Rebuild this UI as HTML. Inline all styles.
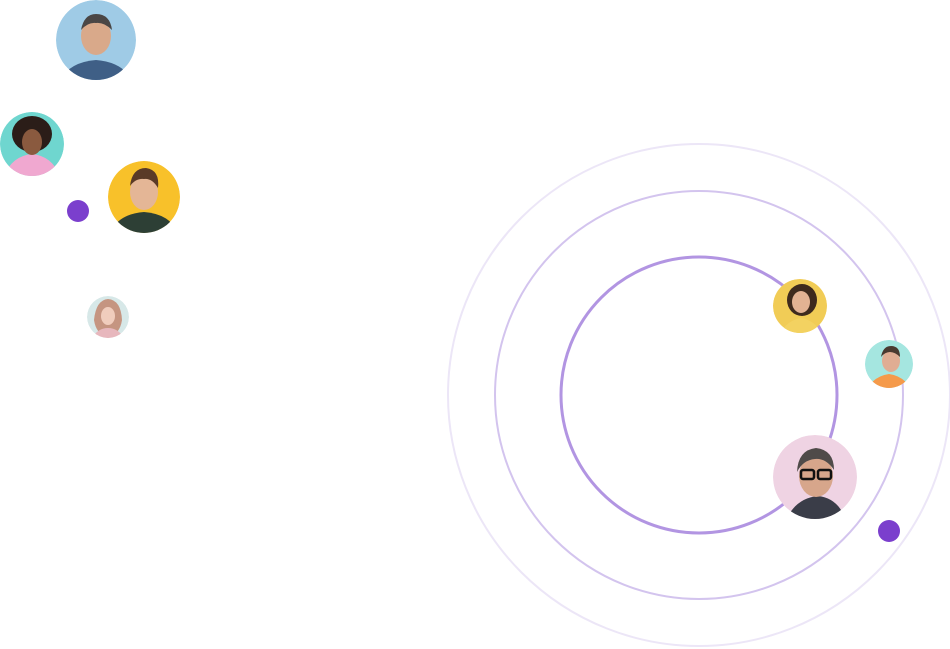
<!DOCTYPE html>
<html><head><meta charset="utf-8"><style>html,body{margin:0;padding:0;background:#fff;width:950px;height:649px;overflow:hidden}</style></head>
<body>
<svg width="950" height="649" viewBox="0 0 950 649" xmlns="http://www.w3.org/2000/svg">
<defs>
<clipPath id="c1"><circle cx="96" cy="40" r="40"/></clipPath>
<clipPath id="c2"><circle cx="32" cy="144" r="32"/></clipPath>
<clipPath id="c3"><circle cx="144" cy="197" r="36"/></clipPath>
<clipPath id="c5"><circle cx="108" cy="317" r="21"/></clipPath>
<clipPath id="c6"><circle cx="800" cy="306" r="27"/></clipPath>
<clipPath id="c7"><circle cx="889" cy="364" r="24"/></clipPath>
<clipPath id="c8"><circle cx="815" cy="477" r="42"/></clipPath>
</defs>
<circle cx="699" cy="395" r="251" fill="none" stroke="#ece6f7" stroke-width="2"/>
<circle cx="699" cy="395" r="204" fill="none" stroke="#d3c4ee" stroke-width="2"/>
<circle cx="699" cy="395" r="138" fill="none" stroke="#b295e2" stroke-width="3"/>

<g clip-path="url(#c1)"><circle cx="96" cy="40" r="40" fill="#9fcbe6"/>
<path d="M60 80 Q70 62 96 60 Q122 62 132 80Z" fill="#3f5f86"/>
<ellipse cx="96" cy="36" rx="15" ry="19" fill="#d9a98a"/>
<path d="M81 30 Q84 14 96 14 Q110 14 112 30 Q104 22 96 23 Q88 22 81 30Z" fill="#4a4645"/></g>

<g clip-path="url(#c2)"><circle cx="32" cy="144" r="32" fill="#6fd6cf"/>
<ellipse cx="32" cy="134" rx="20" ry="18" fill="#2b1d18"/>
<path d="M4 176 Q12 156 32 154 Q52 156 60 176Z" fill="#f0a8d0"/>
<ellipse cx="32" cy="142" rx="10" ry="13" fill="#8a5a3f"/></g>

<g clip-path="url(#c3)"><circle cx="144" cy="197" r="36" fill="#f8c12a"/>
<path d="M110 233 Q118 214 144 212 Q170 214 178 233Z" fill="#2d3f35"/>
<ellipse cx="144" cy="192" rx="14" ry="18" fill="#e4b696"/>
<path d="M130 186 Q132 168 146 168 Q160 170 158 188 Q152 178 144 179 Q136 178 130 186Z" fill="#5a3a27"/></g>

<circle cx="78" cy="211" r="11" fill="#7b3fcd"/>

<g clip-path="url(#c5)"><circle cx="108" cy="317" r="21" fill="#d7e8e8"/>
<path d="M94 320 Q96 300 108 299 Q121 300 122 320 Q120 334 108 338 Q96 334 94 320Z" fill="#c59581"/>
<ellipse cx="108" cy="316" rx="7" ry="9" fill="#f0cdbd"/>
<path d="M92 338 Q98 328 108 328 Q118 328 124 338Z" fill="#e7b7bd"/></g>

<g clip-path="url(#c6)"><circle cx="800" cy="306" r="27" fill="#f1cc56"/>
<ellipse cx="802" cy="300" rx="15" ry="16" fill="#3e2a1d"/>
<ellipse cx="801" cy="302" rx="9" ry="11" fill="#e2b293"/>
<path d="M780 333 Q788 320 801 318 Q814 320 822 333Z" fill="#f3d261"/></g>

<g clip-path="url(#c7)"><circle cx="889" cy="364" r="24" fill="#a5e6e0"/>
<path d="M866 390 Q874 376 889 374 Q904 376 912 390Z" fill="#f59a4a"/>
<ellipse cx="891" cy="361" rx="9" ry="11" fill="#e0ad93"/>
<path d="M881 357 Q883 346 891 346 Q900 346 900 357 Q895 352 890 352 Q885 352 881 357Z" fill="#4a3a30"/></g>

<g clip-path="url(#c8)"><circle cx="815" cy="477" r="42" fill="#efd3e3"/>
<path d="M786 520 Q796 498 818 496 Q838 498 846 520Z" fill="#3a3d48"/>
<ellipse cx="816" cy="476" rx="17" ry="21" fill="#d7a68b"/>
<path d="M797 472 Q798 450 816 448 Q834 450 834 470 Q826 458 815 459 Q803 460 797 472Z" fill="#4f4b49"/>
<rect x="801" y="470" width="13" height="9" rx="2" fill="none" stroke="#111" stroke-width="2.5"/>
<rect x="818" y="470" width="13" height="9" rx="2" fill="none" stroke="#111" stroke-width="2.5"/></g>

<circle cx="889" cy="531" r="11" fill="#7b3fcd"/>
</svg>
</body></html>
